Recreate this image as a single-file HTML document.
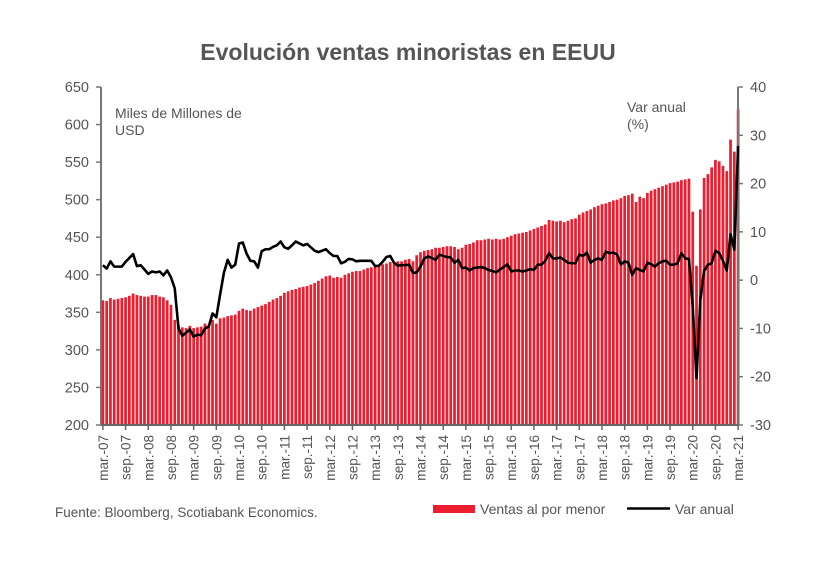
<!DOCTYPE html>
<html><head><meta charset="utf-8">
<style>
body{margin:0;background:#fff;}
svg{display:block;font-family:"Liberation Sans",Arial,sans-serif;}
</style></head>
<body>
<svg id="chart" width="818" height="566" viewBox="0 0 818 566">
<rect width="818" height="566" fill="#fff"/>
<text x="408" y="60" text-anchor="middle" font-size="23" font-weight="bold" fill="#555">Evolución ventas minoristas en EEUU</text>
<text x="115" y="118" font-size="14" fill="#555"><tspan x="115">Miles de Millones de</tspan><tspan x="115" dy="17">USD</tspan></text>
<text x="627" y="112" font-size="14" fill="#555"><tspan x="627">Var anual</tspan><tspan x="627" dy="17">(%)</tspan></text>
<g id="bars"></g>
<g id="axes"></g>
<path id="line" fill="none" stroke="#000" stroke-width="2.6" stroke-linejoin="round"/>
<text x="55" y="517" font-size="13.5" fill="#555">Fuente: Bloomberg, Scotiabank Economics.</text>
<rect x="433" y="505" width="42" height="8" fill="#ed1c2e"/>
<text x="480" y="514" font-size="14" fill="#555">Ventas al por menor</text>
<line x1="627" y1="508.5" x2="670" y2="508.5" stroke="#000" stroke-width="2.5"/>
<text x="675" y="514" font-size="14" fill="#555">Var anual</text>
</svg>
<script>
const sales = [366,365,369,367,368,369,370,372,375,373,
372,371,371,373,373,371,370,366,360,340,333,330,
329,332,329,330,331,335,333,340,335,342,343,345,
346,347,352,355,353,352,355,357,359,361,364,367,
369,372,376,378,380,381,383,384,385,387,389,392,
395,398,399,396,397,396,400,402,404,405,405,407,
409,410,412,412,414,415,417,416,418,418,420,421,
418,426,430,432,433,434,436,436,437,438,438,437,
434,436,440,441,443,446,446,447,448,447,448,447,
448,450,452,454,455,456,457,459,461,463,465,467,
473,472,471,472,470,472,474,475,480,483,485,487,
490,492,494,495,497,499,500,502,505,506,508,497,
504,502,509,512,514,516,518,520,522,523,524,526,
527,528,484,412,487,529,534,543,553,551,545,538,
580,564,620];
const yoy = [3.1,2.4,3.9,2.8,2.8,2.8,3.8,4.6,5.4,2.9,
3.1,2.2,1.3,1.8,1.6,1.8,1.0,2.0,0.6,-1.7,-10.0,-11.5,
-10.9,-10.2,-11.7,-11.3,-11.4,-10.0,-9.6,-6.9,-7.7,-3.0,1.5,4.2,
2.6,3.2,7.6,7.8,5.5,4.0,3.9,2.6,6.0,6.4,6.4,6.9,
7.2,8.0,6.8,6.5,7.2,8.0,7.6,7.2,7.5,6.8,6.1,5.8,
6.1,6.4,5.6,5.0,5.0,3.5,3.8,4.4,4.3,3.9,4.0,4.0,
4.0,4.0,2.9,3.0,3.8,4.8,5.0,3.6,3.0,3.1,3.1,3.2,
1.5,1.6,2.8,4.5,4.9,4.6,4.2,5.3,5.0,4.8,4.7,3.6,
4.2,2.5,2.6,2.0,2.5,2.6,2.7,2.5,2.1,1.9,1.6,2.2,
2.7,3.3,1.8,2.0,2.0,1.8,2.0,2.3,2.1,3.2,3.2,4.0,
5.6,4.5,4.5,4.7,4.2,3.6,3.5,3.5,5.3,5.0,5.7,3.6,
4.2,4.5,4.2,5.9,5.6,5.7,5.3,3.2,3.9,3.6,1.1,2.5,
2.1,1.8,3.6,3.3,2.8,3.5,3.9,4.0,3.2,3.2,3.5,5.6,
4.5,4.4,-5.5,-20.3,-4.1,1.9,3.2,3.5,6.1,5.6,4.0,2.0,
9.5,6.3,27.8];
const leftTicks = [200,250,300,350,400,450,500,550,600,650];
const rightTicks = [-30,-20,-10,0,10,20,30,40];
const monthNames = ["mar.","sep."];

const X0=101, X1=740, YT=87, YB=425;
const n = sales.length;
const step = (X1-X0)/n;
const xC = i => X0 + step*(i+0.5);
const yL = v => YB - (v-200)/(650-200)*(YB-YT);
const yR = v => YB - (v+30)/(40+30)*(YB-YT);
const NS="http://www.w3.org/2000/svg";
function mk(tag, attrs, parent){const e=document.createElementNS(NS,tag);for(const k in attrs)e.setAttribute(k,attrs[k]);parent.appendChild(e);return e;}

const bars=document.getElementById('bars');
sales.forEach((v,i)=>{
  const b=mk('rect',{x:(xC(i)-step*0.36).toFixed(2),y:yL(v).toFixed(2),width:(step*0.72).toFixed(2),height:(YB-yL(v)).toFixed(2),fill:'#ed1c2e'},bars);
  
  
});

const axes=document.getElementById('axes');
let a;
a=mk('line',{x1:X0,y1:YT,x2:X0,y2:YB,stroke:'#777','stroke-width':2},axes);


a=mk('line',{x1:X1-2,y1:YT,x2:X1-2,y2:YB,stroke:'#777','stroke-width':2},axes);


a=mk('line',{x1:X0,y1:YB,x2:X1-2,y2:YB,stroke:'#666','stroke-width':2},axes);


leftTicks.forEach(v=>{
  const y=yL(v);
  mk('line',{x1:X0-5,y1:y,x2:X0,y2:y,stroke:'#777','stroke-width':1.5},axes);
  const t=mk('text',{x:X0-12,y:y+5,'text-anchor':'end','font-size':14.5,fill:'#555'},axes);
  t.textContent=v;
  
  
});
rightTicks.forEach(v=>{
  const y=yR(v);
  mk('line',{x1:X1-2,y1:y,x2:X1+3,y2:y,stroke:'#777','stroke-width':1.5},axes);
  const t=mk('text',{x:X1+10,y:y+5,'text-anchor':'start','font-size':14.5,fill:'#555'},axes);
  t.textContent=v;
  
  
});
for(let i=0;i<n;i+=6){
  const x=X0+step*i+step*0.5;
  mk('line',{x1:x,y1:YB,x2:x,y2:YB+5,stroke:'#666','stroke-width':1.5},axes);
  const yr=7+Math.floor((i+2)/12);
  const lbl=monthNames[(i/6)%2]+'-'+String(yr).padStart(2,'0');
  const t=mk('text',{x:0,y:0,'text-anchor':'end','font-size':13.5,fill:'#555',transform:`translate(${(x+5).toFixed(1)},${YB+10}) rotate(-90)`},axes);
  t.textContent=lbl;
  
  
}
document.getElementById('line').setAttribute('d', yoy.map((v,i)=>(i?'L':'M')+xC(i).toFixed(2)+','+yR(v).toFixed(2)).join(''));
</script>
</body></html>
